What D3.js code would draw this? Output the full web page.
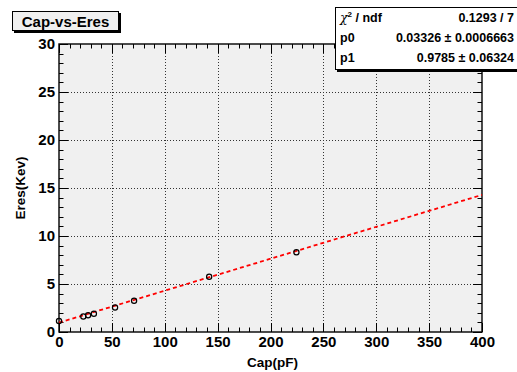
<!DOCTYPE html>
<html><head><meta charset="utf-8">
<script src="https://cdn.jsdelivr.net/npm/d3@7"></script>
<style>
html,body{margin:0;padding:0;background:#fff;}
svg text{font-family:"Liberation Sans",Arial,Helvetica,sans-serif;font-weight:bold;}
</style></head>
<body>
<svg id="c" width="517" height="372"></svg>
<script>
const capValues = [0, 23, 27.5, 33, 53, 71, 142, 224.5];
const eresValues = [1.15, 1.62, 1.75, 1.9, 2.55, 3.25, 5.75, 8.3];
const fitP0 = 0.03326, fitP1 = 0.9785;
const xTicks = [0, 50, 100, 150, 200, 250, 300, 350, 400];
const yTicks = [0, 5, 10, 15, 20, 25, 30];
const statLabels = ["χ² / ndf", "p0", "p1"];
const statValues = ["0.1293 / 7", "0.03326 ± 0.0006663", "0.9785 ± 0.06324"];
const chartTitle = "Cap-vs-Eres";
const xTitle = "Cap(pF)", yTitle = "Eres(Kev)";

const svg = d3.select("#c");
const L = 59, R = 482, T = 44, B = 332;
const x = d3.scaleLinear().domain([0, 400]).range([L, R]);
const y = d3.scaleLinear().domain([0, 30]).range([B, T]);

svg.append("rect").attr("x", L).attr("y", T).attr("width", R - L).attr("height", B - T).attr("fill", "#f0f0f0");

// grid
const g = svg.append("g").attr("stroke", "#333").attr("stroke-width", 1).attr("stroke-dasharray", "1,2");
xTicks.slice(1, -1).forEach(v => g.append("line").attr("x1", Math.round(x(v)) + 0.5).attr("x2", Math.round(x(v)) + 0.5).attr("y1", T).attr("y2", B));
yTicks.slice(1, -1).forEach(v => g.append("line").attr("y1", Math.round(y(v)) + 0.5).attr("y2", Math.round(y(v)) + 0.5).attr("x1", L).attr("x2", R));

// axes with ticks
const minorX = d3.range(0, 401, 10), minorY = d3.range(0, 31, 1);
const tk = svg.append("g").attr("stroke", "#000").attr("stroke-width", 1);
minorX.forEach(v => {
  const len = v % 50 === 0 ? 9 : 4.5;
  const px = Math.round(x(v)) + 0.5;
  tk.append("line").attr("x1", px).attr("x2", px).attr("y1", B).attr("y2", B - len);
  tk.append("line").attr("x1", px).attr("x2", px).attr("y1", T).attr("y2", T + len);
});
minorY.forEach(v => {
  const len = v % 5 === 0 ? 9 : 4.5;
  const py = Math.round(y(v)) + 0.5;
  tk.append("line").attr("y1", py).attr("y2", py).attr("x1", L).attr("x2", L + len);
  tk.append("line").attr("y1", py).attr("y2", py).attr("x1", R).attr("x2", R - len);
});

svg.append("rect").attr("x", L).attr("y", T).attr("width", R - L).attr("height", B - T)
  .attr("fill", "none").attr("stroke", "#000").attr("stroke-width", 1.4);

// tick labels
const xAxis = d3.axisBottom(x).tickValues(xTicks).tickSize(0).tickPadding(4).tickFormat(d3.format("d"));
const xa = svg.append("g").attr("transform", `translate(0,${B})`).call(xAxis);
xa.select(".domain").remove();
xa.selectAll("text").attr("font-size", 15).attr("font-family", "Liberation Sans, Arial").attr("font-weight", "bold").attr("fill", "#000");
const yAxis = d3.axisLeft(y).tickValues(yTicks).tickSize(0).tickPadding(4).tickFormat(d3.format("d"));
const ya = svg.append("g").attr("transform", `translate(${L},0)`).call(yAxis);
ya.select(".domain").remove();
ya.selectAll("text").attr("font-size", 15).attr("font-family", "Liberation Sans, Arial").attr("font-weight", "bold").attr("fill", "#000");

// axis titles
svg.append("text").attr("x", (L + R) / 2 + 2).attr("y", 367).attr("text-anchor", "middle").attr("font-size", 13.5).text(xTitle);
svg.append("text").attr("transform", `translate(25,${(T + B) / 2}) rotate(-90)`).attr("text-anchor", "middle").attr("font-size", 13.5).text(yTitle);

// fit line
const fitX = [0, 400];
svg.append("line").attr("x1", x(fitX[0])).attr("y1", y(fitP0 * fitX[0] + fitP1))
  .attr("x2", x(fitX[1])).attr("y2", y(fitP0 * fitX[1] + fitP1))
  .attr("stroke", "#ff0000").attr("stroke-width", 1.8).attr("stroke-dasharray", "4,3");

// points
svg.append("g").selectAll("circle").data(capValues).join("circle")
  .attr("cx", (d) => x(d)).attr("cy", (d, i) => y(eresValues[i])).attr("r", 2.6)
  .attr("fill", "none").attr("stroke", "#000").attr("stroke-width", 1.2);

// title box
svg.append("rect").attr("x", 14).attr("y", 13).attr("width", 107).attr("height", 20).attr("fill", "#000");
svg.append("rect").attr("x", 12.5).attr("y", 11.5).attr("width", 106).attr("height", 19).attr("fill", "#f0f0f0").attr("stroke", "#000").attr("stroke-width", 1);
svg.append("text").attr("x", 65.5).attr("y", 26.5).attr("text-anchor", "middle").attr("font-size", 15).text(chartTitle);

// stats box
svg.append("rect").attr("x", 337).attr("y", 10).attr("width", 190).attr("height", 62).attr("fill", "#000");
svg.append("rect").attr("x", 335.5).attr("y", 7.5).attr("width", 190).attr("height", 62).attr("fill", "#fff").attr("stroke", "#000").attr("stroke-width", 1);
const rowsY = [22, 42, 62];
statLabels.forEach((s, i) => {
  if (i === 0) {
    const t = svg.append("text").attr("x", 340).attr("y", rowsY[i]).attr("font-size", 12.5);
    t.append("tspan").attr("font-family", "DejaVu Serif, serif").attr("font-weight", "normal").attr("font-style", "italic").text("χ");
    t.append("tspan").attr("dy", -5).attr("font-size", 8).text("2");
    t.append("tspan").attr("dy", 5).text(" / ndf");
  } else {
    svg.append("text").attr("x", 340).attr("y", rowsY[i]).attr("font-size", 12.5).text(s);
  }
  svg.append("text").attr("x", 514).attr("y", rowsY[i]).attr("text-anchor", "end").attr("font-size", 12.5).text(statValues[i]);
});
</script>
</body></html>
